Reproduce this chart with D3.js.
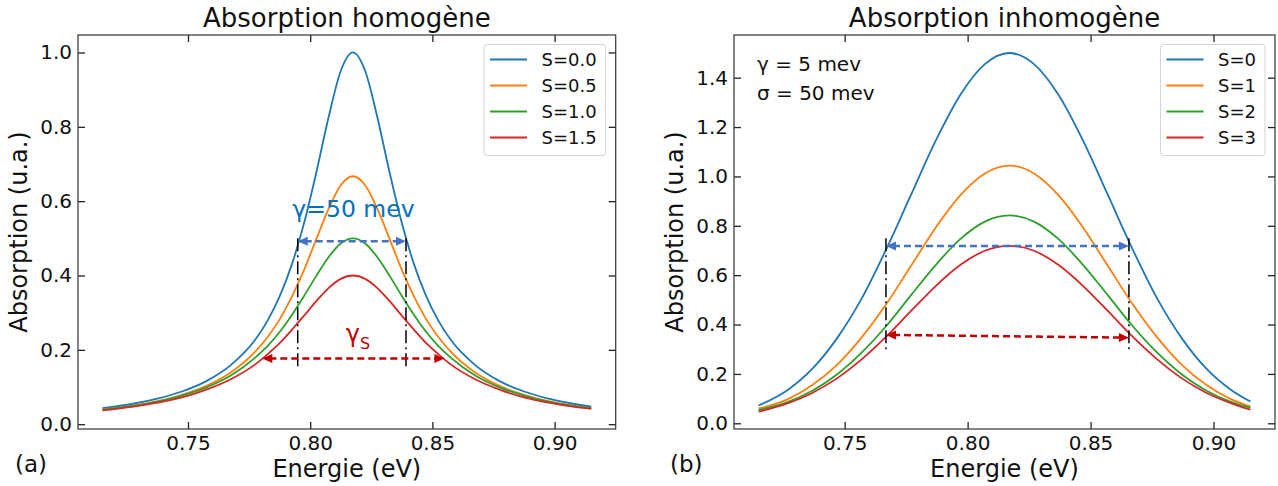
<!DOCTYPE html>
<html>
<head>
<meta charset="utf-8">
<script src="https://cdn.jsdelivr.net/npm/d3@7"></script>
<style>
  body { margin: 0; background: #fff; }
  svg text { font-family: "DejaVu Sans", sans-serif; fill: #111; }
</style>
</head>
<body>
<svg id="chart" width="1278" height="486"></svg>
<script>
// ---------------- DATA ----------------
// (a) Absorption homogène
const homoEnergy = [0.715, 0.7275, 0.7375, 0.7475, 0.7575, 0.7675, 0.7775, 0.7825, 0.7875, 0.7925,
  0.7975, 0.8025, 0.8075, 0.8125, 0.8175, 0.8225, 0.8275, 0.8325, 0.8375, 0.8425,
  0.8475, 0.8525, 0.8575, 0.8675, 0.8775, 0.8875, 0.8975, 0.9075, 0.915];
const homoS00 = [0.043, 0.055, 0.069, 0.088, 0.116, 0.159, 0.227, 0.278, 0.344, 0.430,
  0.541, 0.677, 0.825, 0.950, 1.000, 0.950, 0.825, 0.677, 0.541, 0.430,
  0.344, 0.278, 0.227, 0.159, 0.116, 0.088, 0.069, 0.055, 0.047];
const homoS05 = [0.040, 0.050, 0.062, 0.079, 0.103, 0.139, 0.195, 0.234, 0.282, 0.343,
  0.415, 0.498, 0.579, 0.643, 0.667, 0.643, 0.579, 0.498, 0.415, 0.343,
  0.282, 0.234, 0.195, 0.139, 0.103, 0.079, 0.062, 0.050, 0.043];
const homoS10 = [0.039, 0.049, 0.061, 0.077, 0.099, 0.131, 0.179, 0.210, 0.248, 0.294,
  0.345, 0.399, 0.449, 0.486, 0.500, 0.486, 0.449, 0.399, 0.345, 0.294,
  0.248, 0.210, 0.179, 0.131, 0.099, 0.077, 0.061, 0.049, 0.043];
const homoS15 = [0.037, 0.047, 0.058, 0.072, 0.093, 0.121, 0.161, 0.188, 0.218, 0.254,
  0.292, 0.331, 0.366, 0.391, 0.400, 0.391, 0.366, 0.331, 0.292, 0.254,
  0.218, 0.188, 0.161, 0.121, 0.093, 0.072, 0.058, 0.047, 0.041];
const homoLabels = ["S=0.0", "S=0.5", "S=1.0", "S=1.5"];

// (b) Absorption inhomogène
const inhoEnergy = [0.715, 0.727, 0.737, 0.747, 0.757, 0.767, 0.777, 0.787, 0.797, 0.807, 0.817,
  0.827, 0.837, 0.847, 0.857, 0.867, 0.877, 0.887, 0.897, 0.907, 0.915];
const inhoS0 = [0.072, 0.136, 0.222, 0.346, 0.507, 0.707, 0.926, 1.144, 1.330, 1.455, 1.500,
  1.455, 1.330, 1.144, 0.926, 0.707, 0.507, 0.346, 0.222, 0.136, 0.088];
const inhoS1 = [0.060, 0.098, 0.156, 0.238, 0.349, 0.484, 0.638, 0.792, 0.923, 1.012, 1.044,
  1.012, 0.923, 0.792, 0.638, 0.484, 0.349, 0.238, 0.156, 0.098, 0.068];
const inhoS2 = [0.054, 0.087, 0.133, 0.199, 0.287, 0.395, 0.519, 0.641, 0.746, 0.817, 0.842,
  0.817, 0.746, 0.641, 0.519, 0.395, 0.287, 0.199, 0.133, 0.087, 0.063];
const inhoS3 = [0.047, 0.082, 0.124, 0.183, 0.260, 0.352, 0.455, 0.556, 0.641, 0.699, 0.719,
  0.699, 0.641, 0.556, 0.455, 0.352, 0.260, 0.183, 0.124, 0.082, 0.055];
const inhoLabels = ["S=0", "S=1", "S=2", "S=3"];

// ticks
const xTickValues = [0.75, 0.80, 0.85, 0.90];
const homoYTicks = [0.0, 0.2, 0.4, 0.6, 0.8, 1.0];
const inhoYTicks = [0.0, 0.2, 0.4, 0.6, 0.8, 1.0, 1.2, 1.4];

// annotations (data coordinates)
const homoVLines = [0.7949, 0.8392];
const homoVLineRange = [0.155, 0.500];
const homoBlueArrow = [[0.7949, 0.492], [0.8392, 0.492]];
const homoRedArrow = [[0.7804, 0.177], [0.8549, 0.177]];
const inhoVLines = [0.7668, 0.8656];
const inhoVLineRange = [0.300, 0.750];
const inhoBlueArrow = [[0.7668, 0.718], [0.8656, 0.718]];
const inhoRedArrow = [[0.7668, 0.358], [0.8656, 0.347]];

// ---------------- DRAW ----------------
const colors = ["#1f77b4", "#ff7f0e", "#2ca02c", "#d62728"];
const svg = d3.select("#chart");

const panels = [
  { left: 78, right: 615.7, top: 35, bottom: 429, yDomain: [-0.0129, 1.047],
    yTicks: homoYTicks, energy: homoEnergy, series: [homoS00, homoS05, homoS10, homoS15],
    labels: homoLabels, title: "Absorption homogène", tag: "(a)", tagX: 15, ylabelX: 27 },
  { left: 734, right: 1275, top: 35, bottom: 429, yDomain: [-0.0231, 1.5729],
    yTicks: inhoYTicks, energy: inhoEnergy, series: [inhoS0, inhoS1, inhoS2, inhoS3],
    labels: inhoLabels, title: "Absorption inhomogène", tag: "(b)", tagX: 670, ylabelX: 683 }
];

function drawArrow(g, p1, p2, color, width) {
  const dx = p2[0] - p1[0], dy = p2[1] - p1[1];
  const L = Math.hypot(dx, dy), ux = dx / L, uy = dy / L;
  const hl = 10, hw = 4.5;
  g.append("line")
    .attr("x1", p1[0] + ux * hl * 0.7).attr("y1", p1[1] + uy * hl * 0.7)
    .attr("x2", p2[0] - ux * hl * 0.7).attr("y2", p2[1] - uy * hl * 0.7)
    .attr("stroke", color).attr("stroke-width", width)
    .attr("stroke-dasharray", "7,4");
  function head(tip, dir) {
    const bx = tip[0] - dir[0] * hl, by = tip[1] - dir[1] * hl;
    const nx = -dir[1], ny = dir[0];
    g.append("path")
      .attr("d", `M${tip[0]},${tip[1]}L${bx + nx * hw},${by + ny * hw}L${bx - nx * hw},${by - ny * hw}Z`)
      .attr("fill", color);
  }
  head(p2, [ux, uy]);
  head(p1, [-ux, -uy]);
}

panels.forEach((p, pi) => {
  const x = d3.scaleLinear().domain([0.705, 0.925]).range([p.left, p.right]);
  const y = d3.scaleLinear().domain(p.yDomain).range([p.bottom, p.top]);
  const g = svg.append("g");

  // curves
  const line = d3.line().x((d, i) => x(p.energy[i])).y(d => y(d)).curve(d3.curveMonotoneX);
  p.series.forEach((s, si) => {
    g.append("path").datum(s).attr("d", line)
      .attr("fill", "none").attr("stroke", colors[si]).attr("stroke-width", 1.8);
  });

  // axes (ticks inward, all sides)
  const tickLen = 7;
  const fmtX = d3.format(".2f"), fmtY = d3.format(".1f");
  const bottomAxis = g.append("g").attr("transform", `translate(0,${p.bottom})`)
    .call(d3.axisBottom(x).tickValues(xTickValues).tickFormat(fmtX).tickSize(-tickLen).tickPadding(7));
  const topAxis = g.append("g").attr("transform", `translate(0,${p.top})`)
    .call(d3.axisTop(x).tickValues(xTickValues).tickFormat("").tickSize(-tickLen));
  const leftAxis = g.append("g").attr("transform", `translate(${p.left},0)`)
    .call(d3.axisLeft(y).tickValues(p.yTicks).tickFormat(fmtY).tickSize(-tickLen).tickPadding(6));
  const rightAxis = g.append("g").attr("transform", `translate(${p.right},0)`)
    .call(d3.axisRight(y).tickValues(p.yTicks).tickFormat("").tickSize(-tickLen));
  [bottomAxis, topAxis, leftAxis, rightAxis].forEach(a => {
    a.select(".domain").remove();
    a.selectAll(".tick line").attr("stroke", "#222").attr("stroke-width", 1.3);
    a.selectAll(".tick text").attr("font-family", "DejaVu Sans").attr("font-size", 20).attr("fill", "#111");
  });

  // frame
  g.append("rect").attr("x", p.left).attr("y", p.top)
    .attr("width", p.right - p.left).attr("height", p.bottom - p.top)
    .attr("fill", "none").attr("stroke", "#333").attr("stroke-width", 1.2);

  // title & labels
  const cx = (p.left + p.right) / 2, cy = (p.top + p.bottom) / 2;
  svg.append("text").attr("x", cx).attr("y", 27).attr("text-anchor", "middle")
    .attr("font-size", 26).text(p.title);
  svg.append("text").attr("x", cx).attr("y", 476.5).attr("text-anchor", "middle")
    .attr("font-size", 24).text("Energie (eV)");
  svg.append("text").attr("transform", `translate(${p.ylabelX},${cy}) rotate(-90)`)
    .attr("text-anchor", "middle").attr("font-size", 24).text("Absorption (u.a.)");
  svg.append("text").attr("x", p.tagX).attr("y", 472).attr("font-size", 23).text(p.tag);

  // legend
  const lg = g.append("g");
  const fs = 18, rowH = 26;
  const texts = [];
  p.labels.forEach((lab) => {
    texts.push(lg.append("text").attr("font-size", fs).text(lab));
  });
  const maxW = d3.max(texts, t => t.node().getComputedTextLength());
  const boxW = 6 + 37 + 14.5 + maxW + 9;
  const boxH = 111;
  const bx = p.right - 10 - boxW, by = p.top + 9.5;
  lg.insert("rect", ":first-child").attr("x", bx).attr("y", by).attr("width", boxW).attr("height", boxH)
    .attr("rx", 3).attr("fill", "#fff").attr("fill-opacity", 0.85)
    .attr("stroke", "#d4d4d4").attr("stroke-width", 1);
  texts.forEach((t, i) => {
    const ry = by + 15 + i * rowH;
    lg.append("line").attr("x1", bx + 6).attr("x2", bx + 43).attr("y1", ry).attr("y2", ry)
      .attr("stroke", colors[i]).attr("stroke-width", 2);
    t.attr("x", bx + 57.5).attr("y", ry).attr("dy", "0.36em");
  });

  // annotations
  const ann = g.append("g");
  const vl = pi === 0 ? homoVLines : inhoVLines;
  const vr = pi === 0 ? homoVLineRange : inhoVLineRange;
  vl.forEach(v => {
    ann.append("line").attr("x1", x(v)).attr("x2", x(v)).attr("y1", y(vr[1])).attr("y2", y(vr[0]))
      .attr("stroke", "#000").attr("stroke-width", 1.5).attr("stroke-dasharray", "13,4,2,4");
  });
  const ba = pi === 0 ? homoBlueArrow : inhoBlueArrow;
  const ra = pi === 0 ? homoRedArrow : inhoRedArrow;
  drawArrow(ann, [x(ba[0][0]), y(ba[0][1])], [x(ba[1][0]), y(ba[1][1])], "#4472C4", 2.5);
  drawArrow(ann, [x(ra[0][0]), y(ra[0][1])], [x(ra[1][0]), y(ra[1][1])], "#C00000", 2.5);

  if (pi === 0) {
    ann.append("text").attr("x", x(0.7927)).attr("y", y(0.558))
      .attr("font-family", "Open Sans").attr("font-size", 23.5).style("fill", "#0070C0")
      .text("γ=50 mev");
    const t = ann.append("text").attr("x", x(0.8146)).attr("y", y(0.220))
      .attr("font-family", "Open Sans").attr("font-size", 24).style("fill", "#C00000");
    t.append("tspan").text("γ");
    t.append("tspan").attr("dy", 7).attr("font-size", 16).text("S");
  } else {
    ann.append("text").attr("x", 757).attr("y", 70.7).attr("font-size", 20).text("γ = 5 mev");
    ann.append("text").attr("x", 757).attr("y", 100).attr("font-size", 20).text("σ = 50 mev");
  }
});
</script>
</body>
</html>
